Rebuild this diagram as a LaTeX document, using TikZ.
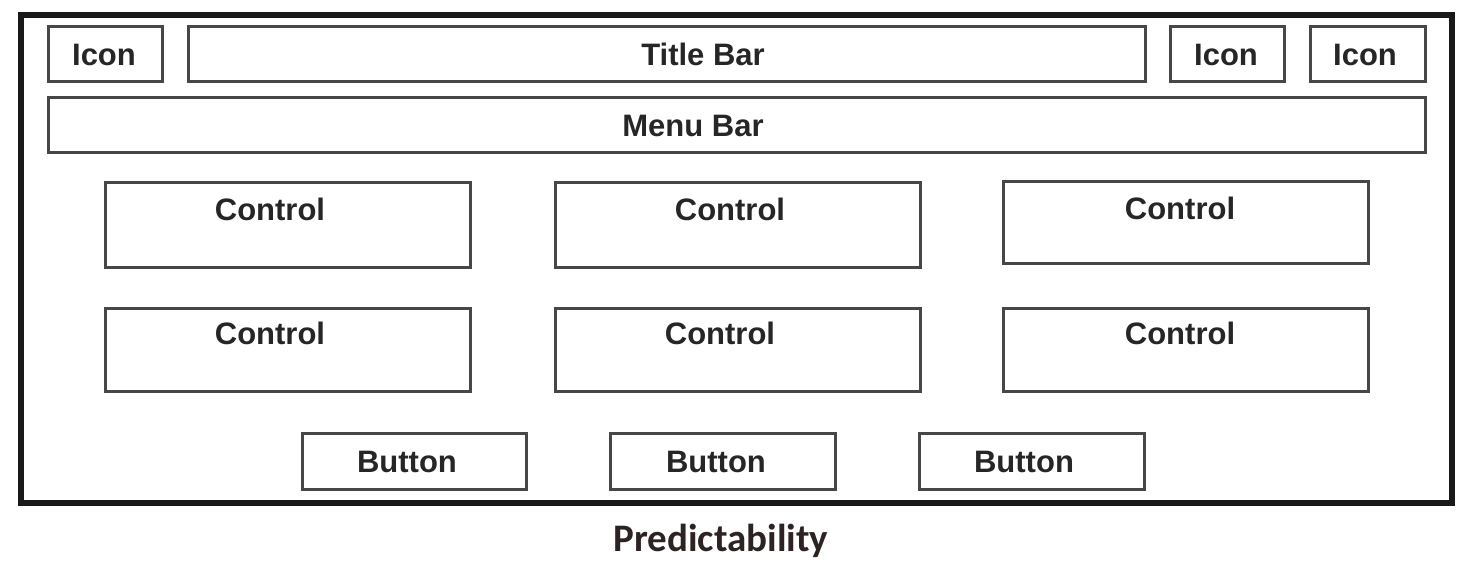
\documentclass[tikz,border=0pt]{standalone}
\usepackage{fontspec}
\setmainfont{Liberation Sans}
\newfontfamily\capfont{Carlito}
\begin{document}
\begin{tikzpicture}[x=0.5pt,y=-0.5pt,
  box/.style={draw=black!72, line width=1.5pt, inner sep=0pt},
  txt/.style={inner sep=0pt, font=\fontsize{15.5}{18}\selectfont\bfseries, text=black!85},
  frame/.style={draw=black!90, line width=3pt},
  ctl/.style={box, minimum width=182.5pt, minimum height=42.5pt}]
\useasboundingbox (0,0) rectangle (1467,565);
\draw[frame] (21,15) rectangle (1452,503);
% top row
\node[box, minimum width=57pt, minimum height=27.5pt, label={[txt, xshift=-0.5pt]center:Icon}] (icon1) at (105,54.5) {};
\node[box, minimum width=478.5pt, minimum height=27.5pt, label={[txt, xshift=18.25pt]center:Title Bar}] (title) at (666.5,54.5) {};
\node[box, minimum width=57pt, minimum height=27.5pt, label={[txt, xshift=-0.5pt]center:Icon}] (icon2) at (1227,54.5) {};
\node[box, minimum width=57.5pt, minimum height=27.5pt, label={[txt, xshift=-1.25pt]center:Icon}] (icon3) at (1367.5,54.5) {};
\node[box, minimum width=688.5pt, minimum height=27.5pt, label={[txt, xshift=-21.75pt]center:Menu Bar}] (menu) at (736.5,125.5) {};
% controls
\node[ctl, label={[txt, yshift=-14pt, xshift=-8.75pt, anchor=center]north:Control}] (c1) at (287.5,225) {};
\node[ctl, label={[txt, yshift=-14pt, xshift=-3.75pt, anchor=center]north:Control}] (c2) at (737.5,225) {};
\node[ctl, minimum height=41pt, label={[txt, yshift=-14pt, xshift=-2.75pt, anchor=center]north:Control}] (c3) at (1185.5,223) {};
\node[ctl, minimum height=41.5pt, label={[txt, yshift=-13pt, xshift=-8.75pt, anchor=center]north:Control}] (c4) at (287.5,350.5) {};
\node[ctl, minimum height=41.5pt, label={[txt, yshift=-13pt, xshift=-8.75pt, anchor=center]north:Control}] (c5) at (737.5,350.5) {};
\node[ctl, minimum height=41.5pt, label={[txt, yshift=-13pt, xshift=-2.75pt, anchor=center]north:Control}] (c6) at (1185.5,350.5) {};
% buttons
\node[box, minimum width=112pt, minimum height=28pt, label={[txt, xshift=-3.5pt]center:Button}] (b1) at (414,462) {};
\node[box, minimum width=112.5pt, minimum height=28pt, label={[txt, xshift=-3.25pt]center:Button}] (b2) at (722.5,462) {};
\node[box, minimum width=112.5pt, minimum height=28pt, label={[txt, xshift=-3.75pt]center:Button}] (b3) at (1031.5,462) {};
% caption
\node[font=\capfont\bfseries\fontsize{19.5}{24}\selectfont, text={rgb,255:red,45;green,35;blue,35}] (cap) at (721,541) {Predictability};
\end{tikzpicture}
\end{document}
